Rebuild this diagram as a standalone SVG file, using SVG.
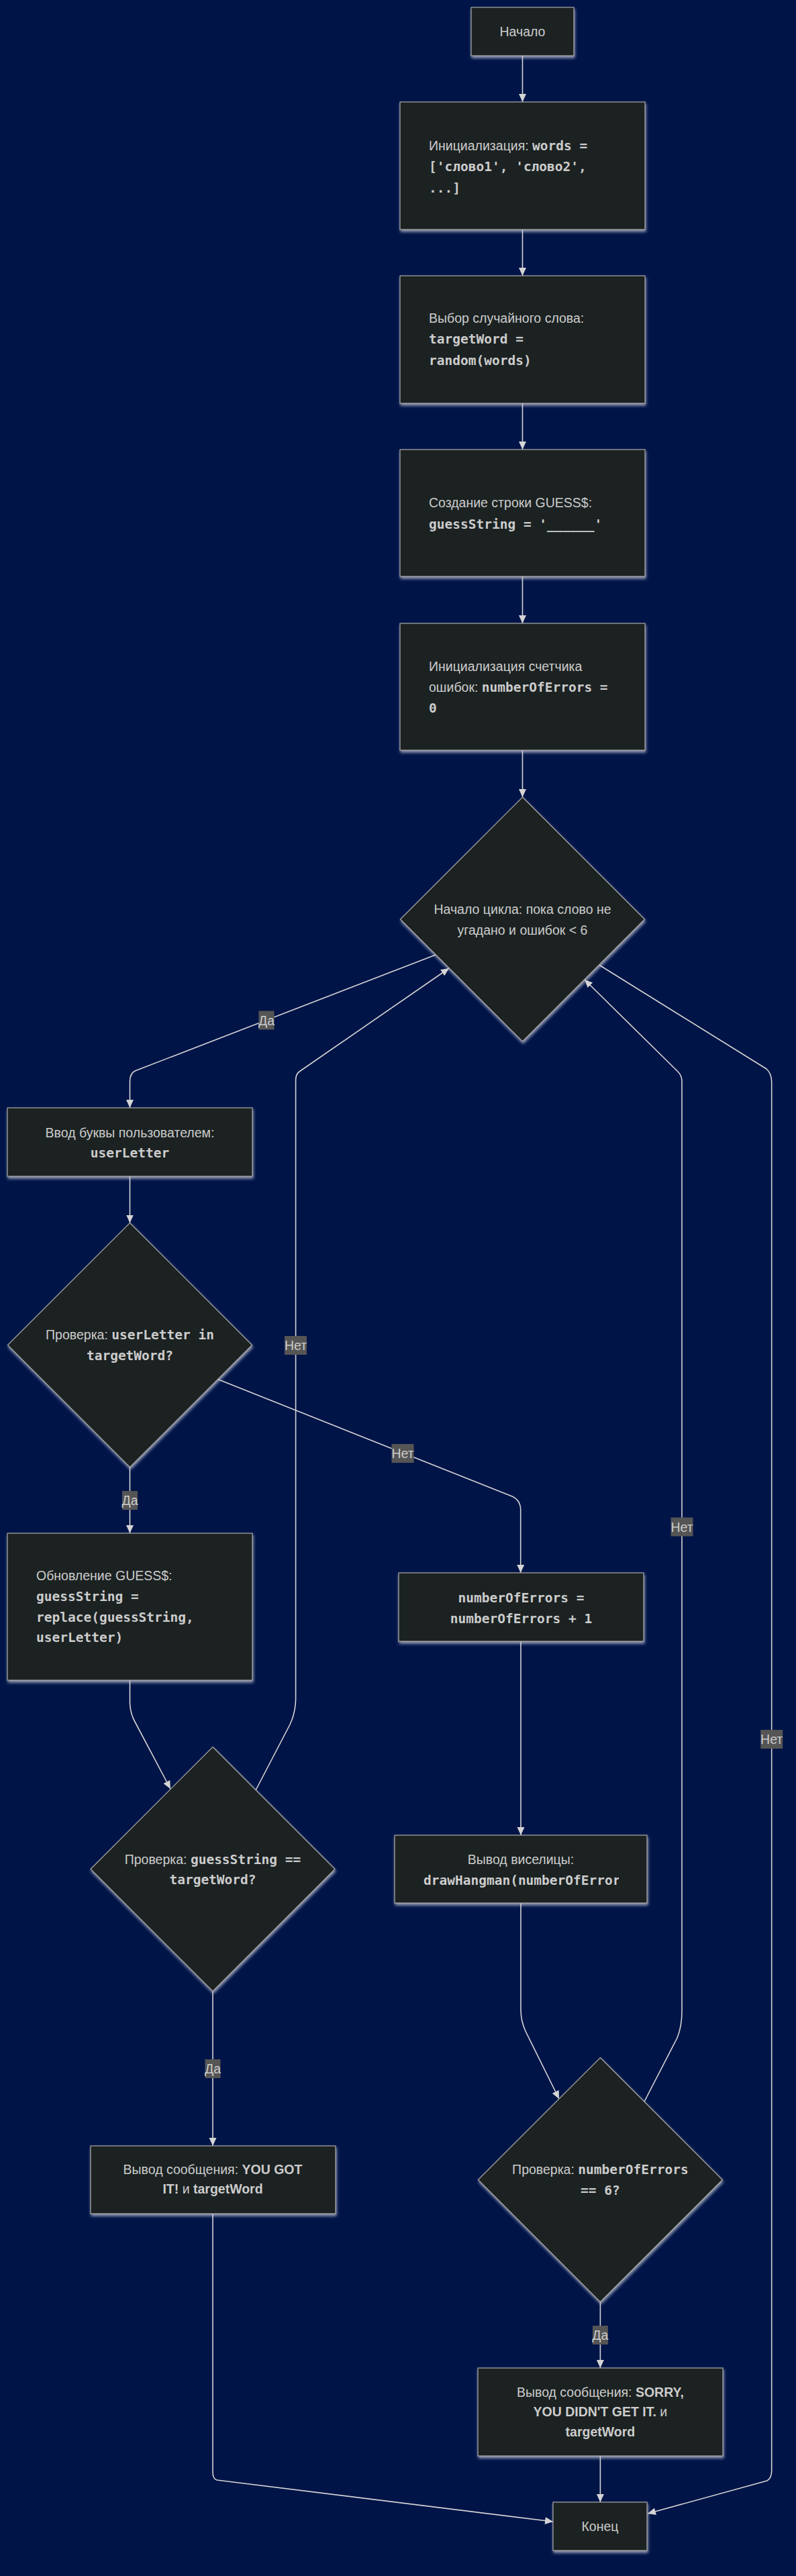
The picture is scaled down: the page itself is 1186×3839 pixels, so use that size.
<svg xmlns="http://www.w3.org/2000/svg" width="1186" height="3839" viewBox="0 0 1186 3839">
<style>
.n{fill:#1f2020;stroke:#a8a8a8;stroke-width:1.2;filter:url(#sh)}
.e{fill:none;stroke:#d4d4d4;stroke-width:1.6;marker-end:url(#ar)}
.t{font-family:"Liberation Sans",Arial,sans-serif;font-size:19.5px;fill:#cccccc}
.c{text-anchor:middle}
.m{font-family:"DejaVu Sans Mono","Liberation Mono",monospace;font-weight:bold}
.b{font-weight:bold}
.lb{fill:#555555}
</style>
<defs>
<filter id="sh" x="-10%" y="-10%" width="120%" height="125%">
<feDropShadow dx="1" dy="3" stdDeviation="2.2" flood-color="#c8c8d8" flood-opacity="0.75"/>
</filter>
<marker id="ar" markerUnits="userSpaceOnUse" markerWidth="13" markerHeight="12" refX="12" refY="5.5" orient="auto">
<path d="M0,0 L12,5.5 L0,11 z" fill="#d4d4d4"/>
</marker>
<clipPath id="clipDH"><rect x="630" y="2780" width="292" height="40"/></clipPath>
</defs>
<rect width="1186" height="3839" fill="#001447"/>

<g id="edges">
<path class="e" d="M778.5,83 L778.5,152"/>
<path class="e" d="M778.5,342 L778.5,411"/>
<path class="e" d="M778.5,601 L778.5,670"/>
<path class="e" d="M778.5,859 L778.5,929"/>
<path class="e" d="M778.5,1118 L778.5,1188"/>
<path class="e" d="M649,1423 L201,1596 Q193.5,1600 193.5,1612 L193.5,1651"/>
<path class="e" d="M193.5,1753 L193.5,1822.5"/>
<path class="e" d="M193.5,2186.5 L193.5,2285"/>
<path class="e" d="M324.5,2055.5 L763,2230 Q775.7,2236 775.7,2250 L775.7,2344"/>
<path class="e" d="M193.5,2504 L193.5,2535 Q193.5,2552 200.5,2565 L254,2666"/>
<path class="e" d="M381,2668 L432,2570 Q440.6,2552 440.6,2530 L440.6,1610 Q440.6,1601 446,1597 L669,1443"/>
<path class="e" d="M317,2967.5 L317,3198"/>
<path class="e" d="M776,2446 L776,2735"/>
<path class="e" d="M776,2836 L776,2995 Q776,3012 783,3027 L833,3128"/>
<path class="e" d="M960,3132 L1009,3037 Q1016,3020 1016,2997 L1016,1612 Q1016,1603 1010,1597 L871,1460"/>
<path class="e" d="M892.6,1438 L1142,1593 Q1149.7,1600 1149.7,1612 L1149.7,3682 Q1149.7,3693 1143,3697 L965,3746"/>
<path class="e" d="M894.4,3430.5 L894.4,3529"/>
<path class="e" d="M894.4,3660 L894.4,3729"/>
<path class="e" d="M317,3299 L317,3684 Q317,3694 323,3696 L824,3758"/>
</g>

<g id="edge-labels">
<rect class="lb" x="385.5" y="1506.5" width="23" height="28"/><text class="t c" x="397" y="1527.5">Да</text>
<rect class="lb" x="182" y="2222" width="23" height="28"/><text class="t c" x="193.5" y="2243">Да</text>
<rect class="lb" x="424" y="1991" width="33" height="28"/><text class="t c" x="440.6" y="2012">Нет</text>
<rect class="lb" x="583.5" y="2152" width="33" height="28"/><text class="t c" x="600" y="2173">Нет</text>
<rect class="lb" x="999.5" y="2261.5" width="33" height="28"/><text class="t c" x="1016" y="2282.5">Нет</text>
<rect class="lb" x="1133.2" y="2578" width="33" height="28"/><text class="t c" x="1149.7" y="2599">Нет</text>
<rect class="lb" x="305.5" y="3069" width="23" height="28"/><text class="t c" x="317" y="3090">Да</text>
<rect class="lb" x="882.9" y="3466" width="23" height="28"/><text class="t c" x="894.4" y="3487">Да</text>
</g>

<g id="start">
<rect class="n" x="702" y="11" width="153" height="72"/>
<text class="t c" x="778.5" y="54">Начало</text>
</g>

<g id="initWords">
<rect class="n" x="596" y="152" width="365" height="190"/>
<text class="t" x="639" y="224">Инициализация: <tspan class="m">words =</tspan></text>
<text class="t m" x="639" y="255">['слово1', 'слово2',</text>
<text class="t m" x="639" y="287">...]</text>
</g>

<g id="pickWord">
<rect class="n" x="596" y="411" width="365" height="190"/>
<text class="t" x="639" y="481">Выбор случайного слова:</text>
<text class="t m" x="639" y="512">targetWord =</text>
<text class="t m" x="639" y="544">random(words)</text>
</g>

<g id="makeGuess">
<rect class="n" x="596" y="670" width="365" height="189"/>
<text class="t" x="639" y="756">Создание строки GUESS$:</text>
<text class="t m" x="639" y="788">guessString = '______'</text>
</g>

<g id="initErrors">
<rect class="n" x="596" y="929" width="365" height="189"/>
<text class="t" x="639" y="999.5">Инициализация счетчика</text>
<text class="t" x="639" y="1030.5">ошибок: <tspan class="m">numberOfErrors =</tspan></text>
<text class="t m" x="639" y="1061.5">0</text>
</g>

<g id="loop">
<polygon class="n" points="778.5,1188 960.5,1370 778.5,1552 596.5,1370"/>
<text class="t c" x="778.5" y="1361.5">Начало цикла: пока слово не</text>
<text class="t c" x="778.5" y="1392.5">угадано и ошибок &lt; 6</text>
</g>

<g id="inputLetter">
<rect class="n" x="11" y="1651" width="365" height="102"/>
<text class="t c" x="193.5" y="1695">Ввод буквы пользователем:</text>
<text class="t c m" x="193.5" y="1725">userLetter</text>
</g>

<g id="checkLetter">
<polygon class="n" points="193.5,1822.5 375.5,2004.5 193.5,2186.5 11.5,2004.5"/>
<text class="t c" x="193.5" y="1996">Проверка: <tspan class="m">userLetter in</tspan></text>
<text class="t c m" x="193.5" y="2027">targetWord?</text>
</g>

<g id="updateGuess">
<rect class="n" x="11" y="2285" width="365" height="219"/>
<text class="t" x="54" y="2355">Обновление GUESS$:</text>
<text class="t m" x="54" y="2386">guessString =</text>
<text class="t m" x="54" y="2416.5">replace(guessString,</text>
<text class="t m" x="54" y="2447">userLetter)</text>
</g>

<g id="incErrors">
<rect class="n" x="594" y="2344" width="365" height="102"/>
<text class="t c m" x="776.5" y="2388">numberOfErrors =</text>
<text class="t c m" x="776.5" y="2419">numberOfErrors + 1</text>
</g>

<g id="checkGuess">
<polygon class="n" points="317,2603.5 499,2785.5 317,2967.5 135,2785.5"/>
<text class="t c" x="317" y="2778">Проверка: <tspan class="m">guessString ==</tspan></text>
<text class="t c m" x="317" y="2808">targetWord?</text>
</g>

<g id="drawHangman">
<rect class="n" x="588" y="2735" width="376" height="101"/>
<text class="t c" x="776" y="2778">Вывод виселицы:</text>
<text class="t m" x="631" y="2809" clip-path="url(#clipDH)">drawHangman(numberOfErrors)</text>
</g>

<g id="win">
<rect class="n" x="135" y="3198" width="365" height="101"/>
<text class="t c" x="317" y="3240">Вывод сообщения: <tspan class="b">YOU GOT</tspan></text>
<text class="t c" x="317" y="3269"><tspan class="b">IT!</tspan> и <tspan class="b">targetWord</tspan></text>
</g>

<g id="checkErrors">
<polygon class="n" points="894.4,3066.5 1076.4,3248.5 894.4,3430.5 712.4,3248.5"/>
<text class="t c" x="894.4" y="3240">Проверка: <tspan class="m">numberOfErrors</tspan></text>
<text class="t c m" x="894.4" y="3271">== 6?</text>
</g>

<g id="lose">
<rect class="n" x="712" y="3529" width="365" height="131"/>
<text class="t c" x="894.4" y="3572">Вывод сообщения: <tspan class="b">SORRY,</tspan></text>
<text class="t c" x="894.4" y="3601"><tspan class="b">YOU DIDN'T GET IT.</tspan> и</text>
<text class="t c b" x="894.4" y="3631">targetWord</text>
</g>

<g id="end">
<rect class="n" x="824" y="3729" width="140" height="72"/>
<text class="t c" x="894" y="3772">Конец</text>
</g>
</svg>
